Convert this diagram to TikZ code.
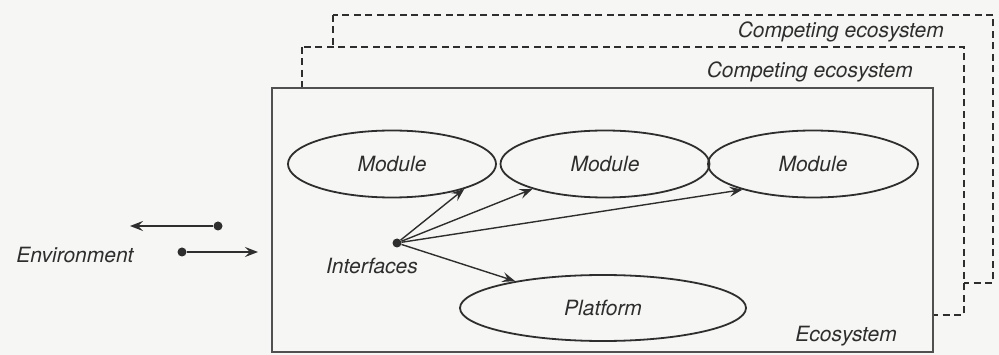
\documentclass[tikz,border=0pt]{standalone}
\usepackage{fontspec}
\setmainfont{TeX Gyre Heros}
\usetikzlibrary{arrows.meta,shapes.geometric}

\definecolor{paper}{HTML}{F6F6F4}
\definecolor{ink}{HTML}{2E2E2E}
\definecolor{frame}{HTML}{505050}

\tikzset{
  lbl/.style={font=\fontsize{21}{25}\selectfont\itshape, text=ink, inner sep=0pt},
  oval/.style={ellipse, draw=ink, line width=1.8pt, inner sep=0pt,
               font=\fontsize{21}{25}\selectfont\itshape, text=ink},
  ecobox/.style={draw=ink, line width=1.6pt, fill=paper,
                 dash pattern=on 7pt off 4.5pt},
  mainbox/.style={draw=frame, line width=1.8pt, fill=paper},
  link/.style={draw=ink, line width=1.4pt,
               -{Stealth[length=13pt,width=10pt,inset=5pt]}},
  joint/.style={circle, fill=ink, inner sep=0pt, minimum size=9pt}
}

\begin{document}
\begin{tikzpicture}[x=1pt,y=-1pt]
  % page
  \fill[paper] (0,0) rectangle (999,355);
  \useasboundingbox (0,0) rectangle (999,355);

  % competing ecosystems behind the main one
  \path[ecobox] (333,15) rectangle (993,283);
  \node[lbl, anchor=east] (comp2) at (944,32) {Competing ecosystem};
  \path[ecobox] (302,47) rectangle (964,315);
  \node[lbl, anchor=east] (comp1) at (913,72) {Competing ecosystem};

  % the ecosystem itself
  \path[mainbox] (272,88) rectangle (933,352);
  \node[lbl, anchor=east] (eco) at (897,336) {Ecosystem};

  % modules and platform
  \node[oval, minimum width=208pt, minimum height=67pt] (m1) at (392,164) {Module};
  \node[oval, minimum width=209pt, minimum height=67pt] (m2) at (605,164) {Module};
  \node[oval, minimum width=210pt, minimum height=67pt] (m3) at (813,164) {Module};
  \node[oval, minimum width=286pt, minimum height=66pt] (plat) at (603,308) {Platform};

  % interfaces
  \node[joint] (iface) at (397,243) {};
  \node[lbl] (ifacelbl) at (372,266) {Interfaces};
  \draw[link] (iface) -- (m1.341);
  \draw[link] (iface) -- (m2.199);
  \draw[link] (iface) -- (m3.200);
  \draw[link] (iface) -- (plat.163);

  % environment exchange
  \node[lbl] (env) at (75,255) {Environment};
  \node[joint] (outdot) at (218,226) {};
  \coordinate (outend) at (130,226);
  \node[joint] (indot) at (182,252) {};
  \coordinate (inend) at (258,252);
  \draw[link] (outdot) -- (outend);
  \draw[link] (indot) -- (inend);
\end{tikzpicture}
\end{document}
